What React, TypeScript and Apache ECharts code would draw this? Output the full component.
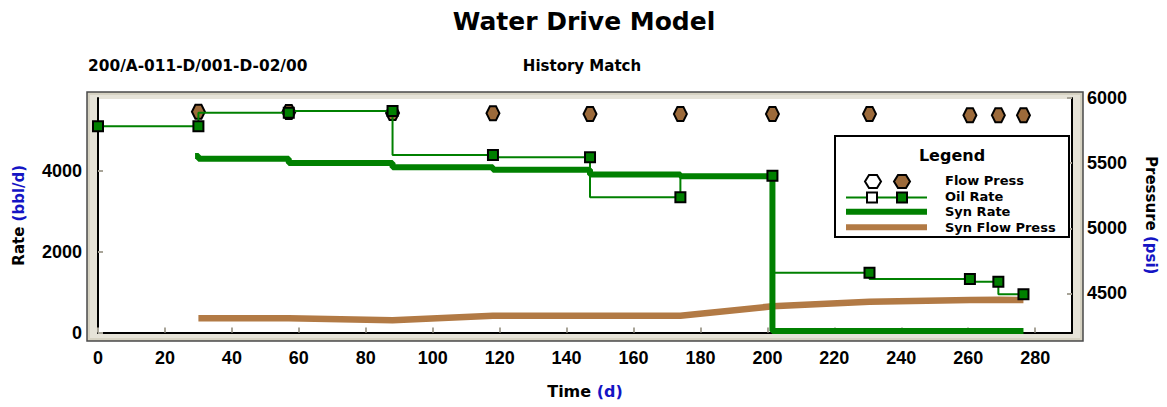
import { useEffect, useRef } from 'react';
import * as echarts from 'echarts';

// Measured oil rate (bbl/d), step profile
const oilTime = [0, 30, 57, 88, 118, 147, 174, 201.5, 230.5, 260.5, 269, 276.5];
const oilRate = [5100, 5100, 5435, 5480, 4390, 4335, 3345, 3880, 1480, 1325, 1255, 945];

// Measured flowing pressure (psi)
const pressTime = [30, 57, 88, 118, 147, 174, 201.5, 230.5, 260.5, 269, 276.5];
const flowPress = [5895, 5893, 5885, 5883, 5877, 5877, 5877, 5877, 5867, 5867, 5867];

// Synthetic (model) rate, each value holds until the next time
const synRateTime = [29, 30, 57, 88, 118, 147, 174, 201.5, 276.5];
const synRate = [4366, 4296, 4193, 4086, 4027, 3908, 3863, 35, 35];

// Synthetic flowing pressure (psi)
const synPressTime = [30, 57, 88, 118, 147, 174, 201.5, 230.5, 260.5, 269, 276.5];
const synFlowPress = [4309, 4309, 4294, 4329, 4329, 4329, 4401, 4436, 4449, 4451, 4449];

const timeTicks = [0, 20, 40, 60, 80, 100, 120, 140, 160, 180, 200, 220, 240, 260, 280];
const rateTicks = [0, 2000, 4000];
const pressureTicks = [4500, 5000, 5500, 6000];

const legendLabels = ['Flow Press', 'Oil Rate', 'Syn Rate', 'Syn Flow Press'];

const TEXT_FONT = '"DejaVu Sans", "Liberation Sans", sans-serif';
const TICK_FONT = '"Liberation Sans", Arial, sans-serif';
const GREEN = '#008000';
const BROWN = '#b27a45';
const HEX_FILL = '#9c6a3a';
const BLUE = '#1414c4';

const hexPoints = (cx: number, cy: number, hw: number, hh: number) => [
  [cx - hw, cy],
  [cx - hw / 2, cy - hh],
  [cx + hw / 2, cy - hh],
  [cx + hw, cy],
  [cx + hw / 2, cy + hh],
  [cx - hw / 2, cy + hh],
];

export default function App() {
  const ref = useRef<HTMLDivElement>(null);

  useEffect(() => {
    if (!ref.current) return;
    const chart = echarts.init(ref.current, undefined, { renderer: 'svg' });

    const tickLabel = {
      fontFamily: TICK_FONT,
      fontWeight: 'bold' as const,
      fontSize: 18,
      color: '#000',
      formatter: (v: number) => String(v),
    };
    const nameStyle = (size: number) => ({
      fontFamily: TEXT_FONT,
      fontWeight: 'bold' as const,
      fontSize: size,
      rich: {
        a: { fontFamily: TEXT_FONT, fontWeight: 'bold' as const, fontSize: size, color: '#000' },
        b: { fontFamily: TEXT_FONT, fontWeight: 'bold' as const, fontSize: size, color: BLUE },
      },
    });
    const tick = (values: number[]) => ({
      show: true,
      inside: true,
      length: 5,
      customValues: values,
      lineStyle: { color: '#a8a498', width: 2 },
    });

    const legendRowY = [181.5, 197.5, 211.7, 227.3];
    const legendTextY = [180, 196, 211.5, 227.5];

    chart.setOption({
      animation: false,
      backgroundColor: '#ffffff',
      grid: {
        left: 98,
        right: 95,
        top: 98,
        bottom: 74.5,
        outerBoundsMode: 'none',
      },
      xAxis: {
        type: 'value',
        min: 0,
        max: 291,
        name: '{a|Time} {b|(d)}',
        nameLocation: 'middle',
        nameGap: 51,
        nameTextStyle: nameStyle(16),
        axisLine: { show: true, onZero: false, lineStyle: { color: '#000', width: 2 } },
        axisTick: tick(timeTicks),
        axisLabel: { ...tickLabel, margin: 16, customValues: timeTicks },
        splitLine: { show: false },
      },
      yAxis: [
        {
          type: 'value',
          min: 0,
          max: 5800,
          name: '{a|Rate} {b|(bbl/d)}',
          nameLocation: 'middle',
          nameRotate: 90,
          nameGap: 72,
          nameTextStyle: nameStyle(15),
          axisLine: { show: true, onZero: false, lineStyle: { color: '#000', width: 2 } },
          axisTick: tick(rateTicks),
          axisLabel: { ...tickLabel, margin: 16, customValues: rateTicks },
          splitLine: { show: false },
        },
        {
          type: 'value',
          position: 'right',
          min: 4200,
          max: 6000,
          name: '{a|Pressure} {b|(psi)}',
          nameLocation: 'middle',
          nameRotate: -90,
          nameGap: 71,
          nameTextStyle: nameStyle(15),
          axisLine: { show: true, onZero: false, lineStyle: { color: '#000', width: 2 } },
          axisTick: tick(pressureTicks),
          axisLabel: { ...tickLabel, margin: 15, customValues: pressureTicks },
          splitLine: { show: false },
        },
      ],
      series: [
        {
          name: 'Syn Flow Press',
          type: 'line',
          yAxisIndex: 1,
          z: 2,
          symbol: 'none',
          lineStyle: { color: BROWN, width: 6.5 },
          data: synPressTime.map((t, i) => [t, synFlowPress[i]]),
        },
        {
          name: 'Syn Rate',
          type: 'line',
          step: 'end',
          z: 3,
          symbol: 'none',
          lineStyle: { color: GREEN, width: 6 },
          data: synRateTime.map((t, i) => [t, synRate[i]]),
        },
        {
          name: 'Flow Press',
          type: 'scatter',
          yAxisIndex: 1,
          z: 4,
          symbol: 'path://M0,7 L4,0 L11,0 L15,7 L11,14 L4,14 Z',
          symbolSize: [13, 14],
          itemStyle: { color: HEX_FILL, borderColor: '#000', borderWidth: 2, opacity: 1 },
          data: pressTime.map((t, i) => [t, flowPress[i]]),
        },
        {
          name: 'Oil Rate',
          type: 'line',
          step: 'start',
          z: 5,
          symbol: 'rect',
          symbolSize: 10,
          showAllSymbol: true,
          lineStyle: { color: GREEN, width: 2 },
          itemStyle: { color: GREEN, borderColor: '#000', borderWidth: 2 },
          data: oilTime.map((t, i) => [t, oilRate[i]]),
        },
      ],
      graphic: [
        // bevelled frame around the plot area
        {
          type: 'rect',
          z: -3,
          silent: true,
          shape: { x: 87, y: 92, width: 996, height: 249 },
          style: { fill: '#d6d2c2', stroke: '#4a4a4a', lineWidth: 1.5 },
        },
        {
          type: 'rect',
          z: -2,
          silent: true,
          shape: { x: 90, y: 95, width: 990, height: 243 },
          style: { fill: '#e6e3d8' },
        },
        {
          type: 'rect',
          z: -1,
          silent: true,
          shape: { x: 97, y: 99, width: 976, height: 234 },
          style: { fill: '#ffffff' },
        },
        // headings
        {
          type: 'text',
          z: 10,
          style: {
            text: 'Water Drive Model',
            x: 584,
            y: 21,
            align: 'center',
            verticalAlign: 'middle',
            font: `bold 25px ${TEXT_FONT}`,
            fill: '#000',
          },
        },
        {
          type: 'text',
          z: 10,
          style: {
            text: '200/A-011-D/001-D-02/00',
            x: 88,
            y: 66,
            align: 'left',
            verticalAlign: 'middle',
            font: `bold 15.4px ${TEXT_FONT}`,
            fill: '#000',
          },
        },
        {
          type: 'text',
          z: 10,
          style: {
            text: 'History Match',
            x: 582,
            y: 66,
            align: 'center',
            verticalAlign: 'middle',
            font: `bold 15px ${TEXT_FONT}`,
            fill: '#000',
          },
        },
        // legend box
        {
          type: 'group',
          z: 20,
          children: [
            {
              type: 'rect',
              z: 20,
              shape: { x: 835, y: 136, width: 234, height: 101 },
              style: { fill: '#ffffff', stroke: '#000', lineWidth: 2 },
            },
            {
              type: 'text',
              z: 21,
              style: {
                text: 'Legend',
                x: 952,
                y: 155,
                align: 'center',
                verticalAlign: 'middle',
                font: `bold 16px ${TEXT_FONT}`,
                fill: '#000',
              },
            },
            {
              type: 'polygon',
              z: 21,
              shape: { points: hexPoints(873, legendRowY[0], 8, 6.5) },
              style: { fill: '#ffffff', stroke: '#000', lineWidth: 2 },
            },
            {
              type: 'polygon',
              z: 21,
              shape: { points: hexPoints(902, legendRowY[0], 8, 6.5) },
              style: { fill: HEX_FILL, stroke: '#000', lineWidth: 2 },
            },
            {
              type: 'line',
              z: 21,
              shape: { x1: 846, y1: legendRowY[1], x2: 927, y2: legendRowY[1] },
              style: { stroke: GREEN, lineWidth: 2 },
            },
            {
              type: 'rect',
              z: 22,
              shape: { x: 867, y: legendRowY[1] - 5, width: 10, height: 10 },
              style: { fill: '#ffffff', stroke: '#000', lineWidth: 2 },
            },
            {
              type: 'rect',
              z: 22,
              shape: { x: 897, y: legendRowY[1] - 5, width: 10, height: 10 },
              style: { fill: GREEN, stroke: '#000', lineWidth: 2 },
            },
            {
              type: 'line',
              z: 21,
              shape: { x1: 846, y1: legendRowY[2], x2: 927, y2: legendRowY[2] },
              style: { stroke: GREEN, lineWidth: 6 },
            },
            {
              type: 'line',
              z: 21,
              shape: { x1: 846, y1: legendRowY[3], x2: 927, y2: legendRowY[3] },
              style: { stroke: BROWN, lineWidth: 6 },
            },
            ...legendLabels.map((label, i) => ({
              type: 'text',
              z: 21,
              style: {
                text: label,
                x: 945,
                y: legendTextY[i],
                align: 'left',
                verticalAlign: 'middle',
                font: `bold 13px ${TEXT_FONT}`,
                fill: '#000',
              },
            })),
          ],
        },
      ],
    });

    return () => chart.dispose();
  }, []);

  return (
    <div
      ref={ref}
      style={{ position: 'fixed', left: 0, top: 0, width: 1167, height: 407, background: '#fff' }}
    />
  );
}
